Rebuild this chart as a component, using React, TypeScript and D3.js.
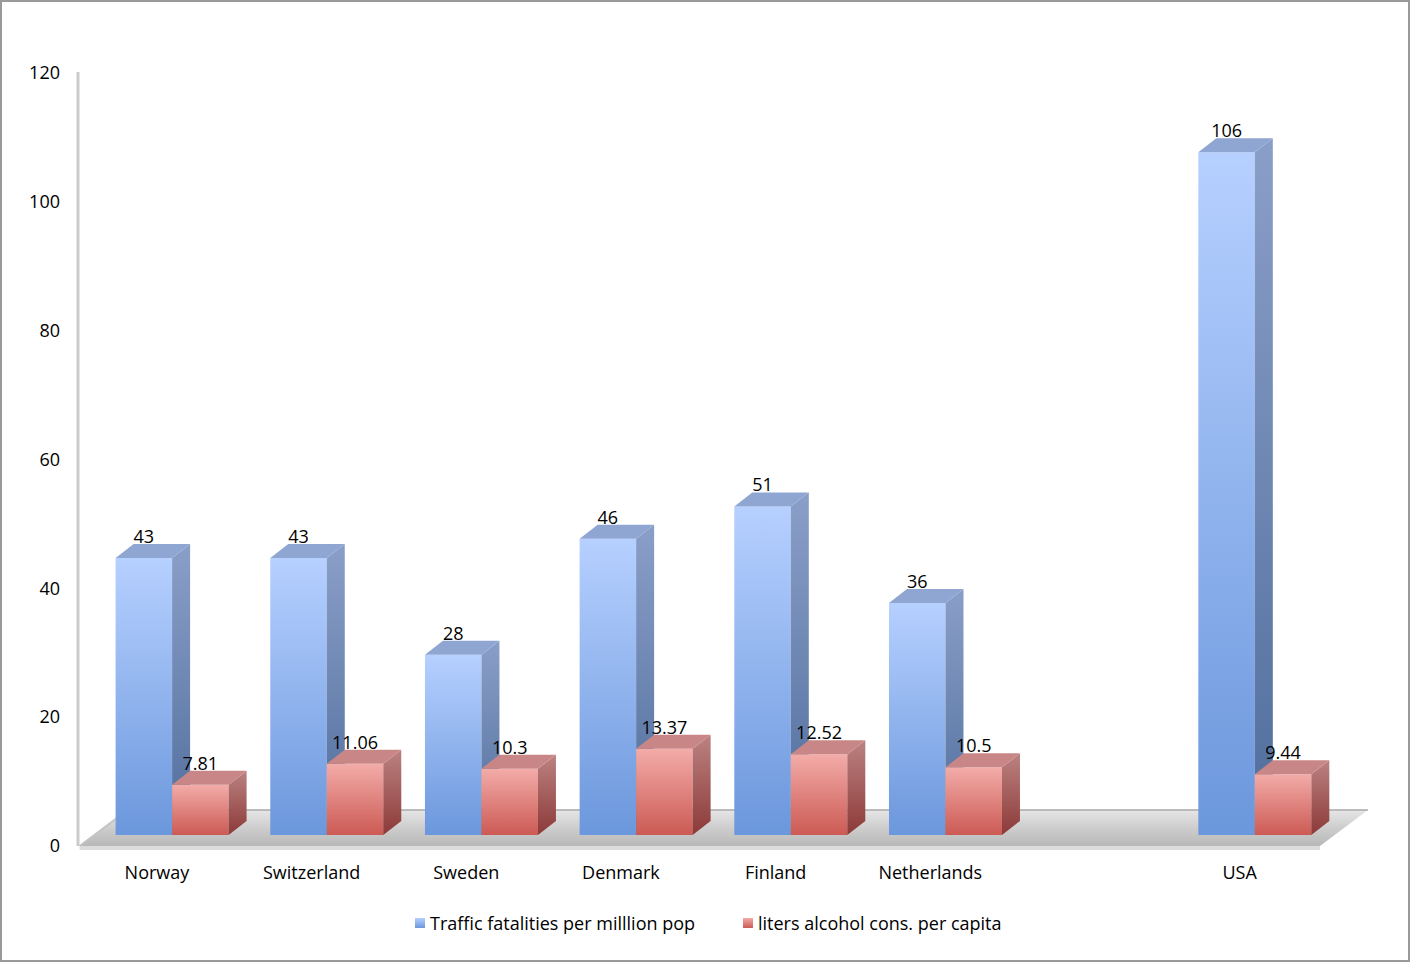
import React from "react";
import * as d3 from "d3";

const width = 1411;
const height = 963;

// chart data
const categories = ["Norway", "Switzerland", "Sweden", "Denmark", "Finland", "Netherlands", "", "USA"];
const fatalities = [43, 43, 28, 46, 51, 36, null, 106];
const alcohol = [7.81, 11.06, 10.3, 13.37, 12.52, 10.5, null, 9.44];
const yTicks = [0, 20, 40, 60, 80, 100, 120];
const seriesNames = ["Traffic fatalities per milllion pop", "liters alcohol cons. per capita"];

const font = "'Open Sans', sans-serif";
const fontSize = 18;

// 3D offsets
const barDx = 18;
const barDy = -14;
const floorDx = 48;
const floorDy = -36;

const x = d3.scaleBand().domain(categories).range([79.6, 1317]);
const inner = d3.scaleBand().domain(["fat", "alc"]).range([36, 149]);
const y = d3.scaleLinear().domain([0, 120]).range([835, 62]);

const floorFront = 846;

const colors = {
  fat: { front: ["#b6d0ff", "#6b97dc"], side: ["#8a9fc8", "#506d9c"], top: "#8fa6d3" },
  alc: { front: ["#f3aca9", "#cc5a54"], side: ["#bb8281", "#8c3a38"], top: "#c88786" },
};

type Key = "fat" | "alc";

const Bar = ({ xi, value, k }: { xi: number; value: number; k: Key }) => {
  const w = inner.bandwidth();
  const x0 = xi;
  const x1 = xi + w;
  const yt = y(value);
  const yb = y(0);
  const front = `M${x0},${yt}H${x1}V${yb}H${x0}Z`;
  const side = `M${x1},${yt}L${x1 + barDx},${yt + barDy}V${yb + barDy}L${x1},${yb}Z`;
  const top = `M${x0},${yt}L${x0 + barDx},${yt + barDy}H${x1 + barDx}L${x1},${yt}Z`;
  return (
    <g>
      <path d={front} fill={`url(#${k}-front)`} />
      <path d={side} fill={`url(#${k}-side)`} />
      <path d={top} fill={colors[k].top} />
      <text
        x={x0 + w / 2}
        y={yt - 15}
        textAnchor="middle"
        fontSize={fontSize}
        fontFamily={font}
        fill="#000"
      >
        {value}
      </text>
    </g>
  );
};

export default function App() {
  const x0 = x.range()[0];
  const x1 = x.range()[1];
  const floor = `M${x0},${floorFront}L${x0 + floorDx},${floorFront + floorDy}H${x1 + floorDx + 3}L${x1 + 3},${floorFront}Z`;
  const floorEdge = `M${x0},${floorFront}H${x1 + 3}L${x1 + 3},${floorFront + 4}H${x0}Z`;

  return (
    <div style={{ position: "fixed", left: 0, top: 0, background: "#fff" }}>
      <svg width={width} height={height}>
        <defs>
          {(["fat", "alc"] as Key[]).map((k) => (
            <React.Fragment key={k}>
              <linearGradient id={`${k}-front`} x1="0" y1="0" x2="0" y2="1">
                <stop offset="0" stopColor={colors[k].front[0]} />
                <stop offset="1" stopColor={colors[k].front[1]} />
              </linearGradient>
              <linearGradient id={`${k}-side`} x1="0" y1="0" x2="0" y2="1">
                <stop offset="0" stopColor={colors[k].side[0]} />
                <stop offset="1" stopColor={colors[k].side[1]} />
              </linearGradient>
            </React.Fragment>
          ))}
          <linearGradient id="floor" x1="0" y1="1" x2="0" y2="0">
            <stop offset="0" stopColor="#b8b8b8" />
            <stop offset="0.5" stopColor="#cdcdcd" />
            <stop offset="1" stopColor="#e6e6e6" />
          </linearGradient>
        </defs>

        <rect x={1} y={1} width={width - 3} height={height - 3} fill="#fff" stroke="#9a9a9a" strokeWidth={2} />

        {/* left wall */}
        <line x1={78} x2={78} y1={72} y2={floorFront} stroke="#cbcbcb" strokeWidth={3} />

        {/* floor */}
        <path d={floor} fill="url(#floor)" />
        <path d={floorEdge} fill="#dcdcdc" />
        <line
          x1={x0 + floorDx}
          x2={x1 + floorDx + 3}
          y1={floorFront + floorDy}
          y2={floorFront + floorDy}
          stroke="#a8a8a8"
          strokeWidth={1.5}
        />
        <line x1={x0} y1={floorFront} x2={x0 + floorDx} y2={floorFront + floorDy} stroke="#c4c4c4" strokeWidth={2} />

        {/* y tick labels */}
        {yTicks.map((t) => (
          <text
            key={t}
            x={60}
            y={y(t) + 11}
            dy="0.35em"
            textAnchor="end"
            fontSize={fontSize}
            fontFamily={font}
          >
            {t}
          </text>
        ))}

        {/* bars */}
        {categories.map((c, i) => {
          const bx = x(c)!;
          const f = fatalities[i];
          const a = alcohol[i];
          return (
            <g key={i}>
              {f != null && <Bar xi={bx + inner("fat")!} value={f} k="fat" />}
              {a != null && <Bar xi={bx + inner("alc")!} value={a} k="alc" />}
            </g>
          );
        })}

        {/* category labels */}
        {categories.map((c, i) => (
          <text
            key={i}
            x={x(c)! + x.bandwidth() / 2}
            y={879}
            textAnchor="middle"
            fontSize={fontSize}
            fontFamily={font}
          >
            {c}
          </text>
        ))}

        {/* legend */}
        {seriesNames.map((s, i) => {
          const lx = i === 0 ? 415 : 743;
          const k: Key = i === 0 ? "fat" : "alc";
          return (
            <g key={s}>
              <rect x={lx} y={918} width={10} height={10} fill={`url(#${k}-front)`} />
              <text x={lx + 15} y={930} fontSize={fontSize} fontFamily={font}>
                {s}
              </text>
            </g>
          );
        })}
      </svg>
    </div>
  );
}
